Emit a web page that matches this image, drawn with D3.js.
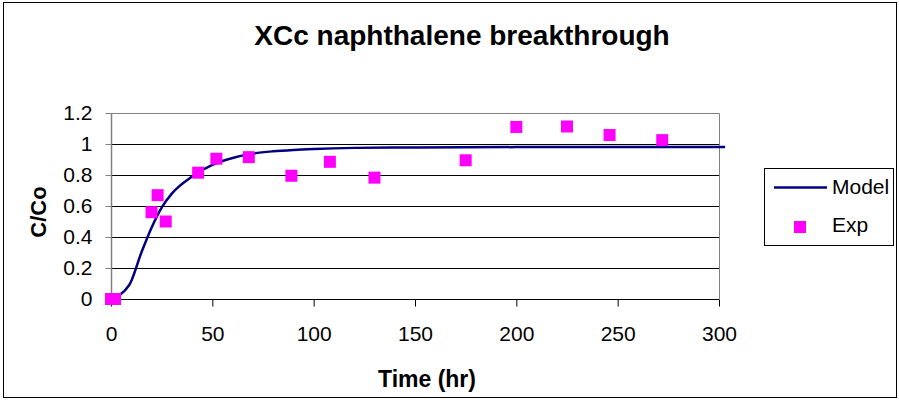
<!DOCTYPE html>
<html lang="en">
<head>
    <meta charset="UTF-8">
    <title>XCc naphthalene breakthrough</title>
    <script src="https://cdn.jsdelivr.net/npm/d3@7"></script>
    <style>
        body{
            margin: 0;
            background: white;
        }
        text{
            font-family: "Liberation Sans", Arial, sans-serif;
        }
    </style>
</head>
<body>
<svg id="chart" width="899" height="400"></svg>
<script>
    // model curve (hr, C/Co)
    let model_time = [0, 9, 15, 20, 25, 30, 40, 50, 60, 70, 80, 90, 100, 120, 150, 200, 250, 303]
    let model_val  = [0, 0.09, 0.3, 0.46, 0.59, 0.68, 0.79, 0.865, 0.91, 0.938, 0.953, 0.962, 0.968, 0.975, 0.978, 0.98, 0.98, 0.98]

    // experimental points
    let exp_time = [0, 2, 20, 23, 27, 43, 52, 68, 89, 108, 130, 175, 200, 225, 246, 272]
    let exp_val  = [0, 0, 0.56, 0.67, 0.50, 0.815, 0.905, 0.915, 0.795, 0.885, 0.783, 0.895, 1.11, 1.113, 1.058, 1.025]

    let x_ticks = [0, 50, 100, 150, 200, 250, 300]
    let y_ticks = [0, 0.2, 0.4, 0.6, 0.8, 1, 1.2]

    let svg = d3.select("#chart")

    // outer chart border
    svg.append("rect")
        .attr("x", 3.5).attr("y", 2.5)
        .attr("width", 893).attr("height", 395)
        .attr("fill", "white")
        .attr("stroke", "#000")

    let x = d3.scaleLinear().domain([0, 300]).range([111, 719])
    let y = d3.scaleLinear().domain([0, 1.2]).range([299, 113])

    // gridlines
    svg.append("g").selectAll("line")
        .data(y_ticks.filter(d => d > 0 && d < 1.2))
        .enter().append("line")
        .attr("x1", x(0)).attr("x2", x(300))
        .attr("y1", d => Math.round(y(d)) + 0.5).attr("y2", d => Math.round(y(d)) + 0.5)
        .attr("stroke", "#000")

    // plot area border (top & right)
    svg.append("path")
        .attr("d", `M${x(0)},${y(1.2) + 0.5}H${x(300) + 0.5}V${y(0)}`)
        .attr("fill", "none")
        .attr("stroke", "#808080")

    // axes
    let xAxis = d3.axisBottom(x).tickValues(x_ticks).tickSize(7).tickPadding(20)
        .tickFormat(d3.format("d"))
    let yAxis = d3.axisLeft(y).tickValues(y_ticks).tickSize(6).tickPadding(13)
        .tickFormat(d => d === 0 || d === 1 ? String(d) : d3.format(".1f")(d))

    let gx = svg.append("g").attr("transform", `translate(0,${Math.round(y(0)) + 0.5})`).call(xAxis)
    let gy = svg.append("g").attr("transform", `translate(${x(0) + 0.5},0)`).call(yAxis)
    gx.select(".domain").attr("stroke", "#000").attr("d", `M${x(0)},0H${x(300)}`)
    gy.select(".domain").attr("stroke", "#808080").attr("stroke-width", 1.5).attr("d", `M0,${y(0)}V${y(1.2)}`)
    gx.selectAll(".tick line").attr("stroke", "#000")
    gy.selectAll(".tick line").attr("stroke", "#808080")
    gx.selectAll("text").attr("font-size", 21).attr("fill", "#000")
        .attr("font-family", "Liberation Sans, Arial, sans-serif")
    gy.selectAll("text").attr("font-size", 21).attr("fill", "#000")
        .attr("font-family", "Liberation Sans, Arial, sans-serif")

    // model line
    let line = d3.line()
        .x((d, i) => x(model_time[i]))
        .y((d, i) => y(model_val[i]))
        .curve(d3.curveMonotoneX)
    svg.append("path")
        .datum(model_val)
        .attr("d", line)
        .attr("fill", "none")
        .attr("stroke", "#000080")
        .attr("stroke-width", 2.5)

    // exp points
    svg.append("g").selectAll("rect")
        .data(exp_val)
        .enter().append("rect")
        .attr("x", (d, i) => x(exp_time[i]) - 6)
        .attr("y", d => y(d) - 6)
        .attr("width", 12).attr("height", 12)
        .attr("fill", "#ff00ff")

    // titles
    svg.append("text")
        .attr("x", 462).attr("y", 45)
        .attr("text-anchor", "middle")
        .attr("font-size", 28).attr("font-weight", "bold")
        .text("XCc naphthalene breakthrough")
    svg.append("text")
        .attr("x", 427).attr("y", 387)
        .attr("text-anchor", "middle")
        .attr("font-size", 23).attr("font-weight", "bold")
        .text("Time (hr)")
    svg.append("text")
        .attr("transform", "translate(46,212) rotate(-90)")
        .attr("text-anchor", "middle")
        .attr("font-size", 22).attr("font-weight", "bold")
        .text("C/Co")

    // legend
    let lg = svg.append("g")
    lg.append("rect")
        .attr("x", 764.5).attr("y", 168.5)
        .attr("width", 129).attr("height", 77)
        .attr("fill", "white").attr("stroke", "#000")
    lg.append("line")
        .attr("x1", 774).attr("x2", 827)
        .attr("y1", 187.5).attr("y2", 187.5)
        .attr("stroke", "#000080").attr("stroke-width", 2.5)
    lg.append("rect")
        .attr("x", 794).attr("y", 221)
        .attr("width", 12).attr("height", 12)
        .attr("fill", "#ff00ff")
    lg.append("text")
        .attr("x", 832).attr("y", 194)
        .attr("font-size", 21)
        .text("Model")
    lg.append("text")
        .attr("x", 832).attr("y", 232)
        .attr("font-size", 21)
        .text("Exp")
</script>
</body>
</html>
